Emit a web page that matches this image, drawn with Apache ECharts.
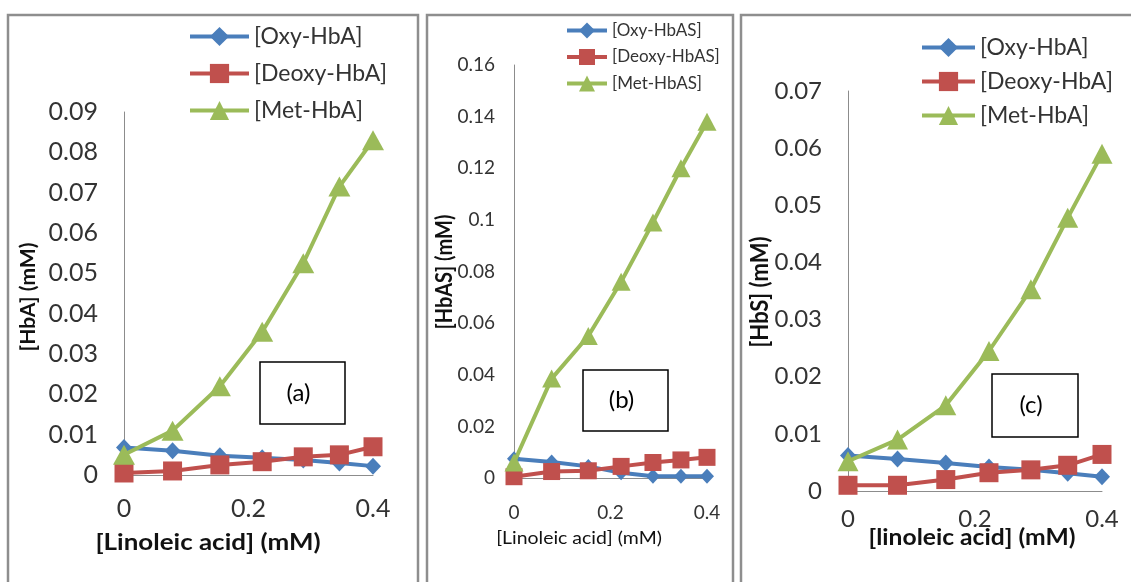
<!DOCTYPE html>
<html>
<head>
<meta charset="utf-8">
<script src="https://cdn.jsdelivr.net/npm/echarts@6/dist/echarts.min.js"></script>
<style>
  html, body { margin: 0; padding: 0; background: #fff; }
  #chart { width: 1131px; height: 582px; }
</style>
</head>
<body>
<div id="chart"></div>
<script>
// Linoleic acid concentration (mM), shared by all three panels
const linoleic = [0, 0.078, 0.154, 0.222, 0.288, 0.346, 0.4];

// Panel (a): HbA species (mM)
const oxyHbA   = [0.0068, 0.006, 0.0048, 0.0043, 0.0037, 0.003, 0.0022];
const deoxyHbA = [0.0005, 0.001, 0.0025, 0.0033, 0.0045, 0.005, 0.007];
const metHbA   = [0.005, 0.011, 0.022, 0.0355, 0.0525, 0.0715, 0.083];

// Panel (b): HbAS species (mM)
const oxyHbAS   = [0.0075, 0.0062, 0.0045, 0.002, 0.0007, 0.0007, 0.0007];
const deoxyHbAS = [0.0005, 0.0025, 0.0028, 0.0045, 0.006, 0.007, 0.008];
const metHbAS   = [0.006, 0.0385, 0.055, 0.076, 0.099, 0.12, 0.138];

// Panel (c): HbS species (mM)
const oxyHbS   = [0.0062, 0.0056, 0.0049, 0.0042, 0.0037, 0.0031, 0.0025];
const deoxyHbS = [0.001, 0.001, 0.002, 0.0032, 0.0037, 0.0045, 0.0064];
const metHbS   = [0.0052, 0.009, 0.015, 0.0245, 0.0353, 0.0478, 0.059];

// Legend labels
const namesA  = ['[Oxy-HbA]', '[Deoxy-HbA]', '[Met-HbA]'];
const namesAS = ['[Oxy-HbAS]', '[Deoxy-HbAS]', '[Met-HbAS]'];

// Axis ranges
const yMaxA = 0.09, yStepA = 0.01;
const yMaxB = 0.16, yStepB = 0.02;
const yMaxC = 0.07, yStepC = 0.01;
const xMax = 0.4, xStep = 0.2;

const BLUE = '#4A7EBB', RED = '#C0504D', GREEN = '#9BBB59';
const FONT = 'Lato, "Open Sans", sans-serif';
const AXIS_GRAY = '#8C8C8C';

const pairs = (xs, ys) => xs.map((x, i) => [x, ys[i]]);

function makeSeries(idx, names, vals, sizes) {
  const colors = [BLUE, RED, GREEN];
  const symbols = ['diamond', 'rect', 'triangle'];
  return vals.map((v, k) => ({
    name: names[k],
    type: 'line',
    xAxisIndex: idx,
    yAxisIndex: idx,
    data: pairs(linoleic, v),
    symbol: symbols[k],
    symbolSize: sizes[k],
    showAllSymbol: true,
    lineStyle: { color: colors[k], width: 4 },
    itemStyle: { color: colors[k] },
    z: 3 + k,
    animation: false
  }));
}

function xAxis(idx, labelSize, margin) {
  return {
    gridIndex: idx, type: 'value', min: 0, max: xMax, interval: xStep,
    axisLine: { show: true, onZero: false, lineStyle: { color: AXIS_GRAY, width: 1 } },
    axisTick: { show: false },
    splitLine: { show: false },
    axisLabel: { color: '#333', fontFamily: FONT, fontSize: labelSize, margin: margin }
  };
}

function yAxis(idx, max, step, labelSize, margin) {
  return {
    gridIndex: idx, type: 'value', min: 0, max: max, interval: step,
    axisLine: { show: true, lineStyle: { color: AXIS_GRAY, width: 1 } },
    axisTick: { show: false },
    splitLine: { show: false },
    axisLabel: { color: '#333', fontFamily: FONT, fontSize: labelSize, margin: margin,
      formatter: v => String(+v.toFixed(4)) }
  };
}

function legend(names, left, top, w, h, gap, size) {
  return {
    data: names, orient: 'vertical', left: left, top: top, padding: 0,
    itemWidth: w, itemHeight: h, itemGap: gap,
    lineStyle: { width: 4 },
    textStyle: { color: '#333', fontFamily: FONT, fontSize: size },
    selectedMode: false
  };
}

function panelBorder(x1, x2) {
  return { type: 'rect', shape: { x: x1, y: 15, width: x2 - x1, height: 600 },
    style: { fill: 'none', stroke: '#8E8E8E', lineWidth: 2.5 }, z: 0, silent: true };
}

function tagBox(x, y, w, h, label, size) {
  return [
    { type: 'rect', shape: { x: x, y: y, width: w, height: h },
      style: { fill: '#fff', stroke: '#000', lineWidth: 1.5 }, z: 10 },
    { type: 'text', x: x + w / 2 - 4, y: y + h / 2,
      style: { text: label, fontFamily: FONT, fontSize: size, fill: '#000',
        align: 'center', verticalAlign: 'middle' }, z: 11 }
  ];
}

function axisTitle(x, y, text, size, weight, rotate, stretch) {
  return { type: 'text', x: x, y: y, rotation: rotate ? Math.PI / 2 : 0,
    scaleX: rotate ? 1 : stretch, scaleY: rotate ? stretch : 1,
    style: { text: text, fontFamily: FONT, fontSize: size, fontWeight: weight, fill: '#111',
      align: 'center', verticalAlign: 'middle' }, z: 12 };
}

const chart = echarts.init(document.getElementById('chart'), null, { renderer: 'canvas' });

chart.setOption({
  animation: false,
  backgroundColor: '#fff',
  grid: [
    { left: 124, top: 112, width: 249, height: 363 },
    { left: 514, top: 65, width: 193, height: 413 },
    { left: 848, top: 91, width: 254, height: 400 }
  ],
  xAxis: [xAxis(0, 25, 21), xAxis(1, 19, 25), xAxis(2, 24, 16)],
  yAxis: [
    yAxis(0, yMaxA, yStepA, 25, 26),
    yAxis(1, yMaxB, yStepB, 19, 19),
    yAxis(2, yMaxC, yStepC, 24, 26)
  ],
  legend: [
    legend(namesA, 188, 25, 59, 24, 14, 23),
    legend(namesAS, 565, 22, 40, 20, 9.5, 17),
    legend(namesA, 920, 36, 53, 24, 11, 23)
  ],
  series: [
    ...makeSeries(0, namesA, [oxyHbA, deoxyHbA, metHbA], [[16, 17], 19, [22, 20]]),
    ...makeSeries(1, namesAS, [oxyHbAS, deoxyHbAS, metHbAS], [[14, 15], 17, [19, 18]]),
    ...makeSeries(2, namesA, [oxyHbS, deoxyHbS, metHbS], [[16, 17], 19, [21, 20]])
  ],
  graphic: [
    panelBorder(8, 418),
    panelBorder(427, 733),
    panelBorder(741, 1140),
    ...tagBox(260, 362, 85, 62, '(a)', 24),
    ...tagBox(583, 370, 85, 61, '(b)', 24),
    ...tagBox(992, 374, 86, 63, '(c)', 24),
    axisTitle(28, 297, '[HbA] (mM)', 21, 'bold', true, 1),
    axisTitle(208, 543, '[Linoleic acid] (mM)', 22, 'bold', false, 1.18),
    axisTitle(445, 272, '[HbAS] (mM)', 20, 'bold', true, 1.1),
    axisTitle(579, 538, '[Linoleic acid] (mM)', 18, 'normal', false, 1.08),
    axisTitle(760, 292, '[HbS] (mM)', 22, 'bold', true, 1.12),
    axisTitle(972, 538, '[linoleic acid] (mM)', 22, 'bold', false, 1.12)
  ]
});
</script>
</body>
</html>
